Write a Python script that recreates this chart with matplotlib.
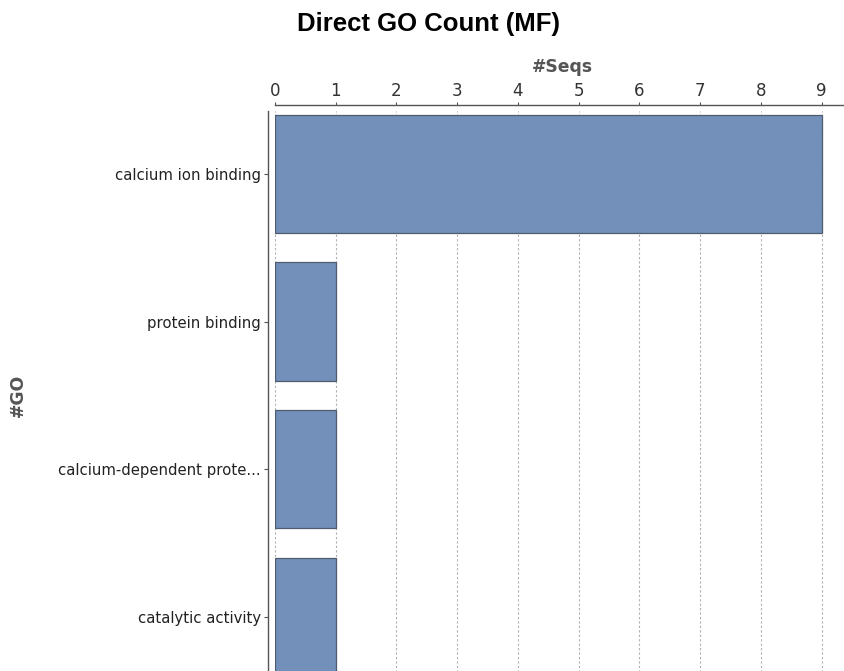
import numpy as np
import matplotlib
matplotlib.use("Agg")
import matplotlib.pyplot as plt

# GO terms (molecular function) and number of sequences
terms = ["calcium ion binding", "protein binding",
         "calcium-dependent prote...", "catalytic activity"]
seqs = [9, 1, 1, 1]
xticks = list(range(0, 10))

bar_color = "#7290b9"
edge_color = "#4f5b6e"
lab_font = "Liberation Sans"

fig = plt.figure(figsize=(8.44, 6.71), dpi=100)
W, H = 844.0, 671.0
# axes placed in pixel terms (left 275, right 849, top 111, bottom 679)
ax = fig.add_axes([275 / W, 1 - 679 / H, (849 - 275) / W, (679 - 111) / H])

pos = np.arange(len(terms))
ax.barh(pos, seqs, height=0.8, color=bar_color, edgecolor=edge_color,
        linewidth=0.9, zorder=3)

ax.set_xlim(0, 9.45)
ax.set_ylim(3.42, -0.425)
ax.set_xticks(xticks)
ax.set_xticklabels([str(t) for t in xticks], family=lab_font)
ax.set_yticks(pos)
ax.set_yticklabels(terms, family=lab_font)

ax.xaxis.tick_top()
ax.grid(axis="x", color="#b0b0b0", linestyle=(0, (2, 2)), linewidth=0.8, zorder=0)

for s in ["right", "bottom"]:
    ax.spines[s].set_visible(False)
ax.spines["top"].set_position(("outward", 4))
ax.spines["left"].set_position(("outward", 5))
for s in ["top", "left"]:
    ax.spines[s].set_color("#555555")
    ax.spines[s].set_linewidth(1.0)

ax.tick_params(axis="x", direction="out", length=2.5, width=0.8, color="#555555",
               labelsize=12, labelcolor="#333333", pad=1.5)
ax.tick_params(axis="y", direction="out", length=3, width=0.8, color="#555555",
               labelsize=10.7, labelcolor="#222222", pad=2)

fig.text(562 / W, 1 - 67 / H, "#Seqs", ha="center", va="center",
         fontsize=12.4, fontweight="bold", color="#555555")
fig.text(18 / W, 1 - 395 / H, "#GO", rotation=90, ha="center", va="center",
         fontsize=12.4, fontweight="bold", color="#555555")

fig.text(429 / W, 1 - 23.5 / H, "Direct GO Count (MF)", ha="center", va="center",
         fontsize=18.5, fontweight="bold", family="Liberation Sans", color="black")

fig.savefig("out.png", dpi=100)
